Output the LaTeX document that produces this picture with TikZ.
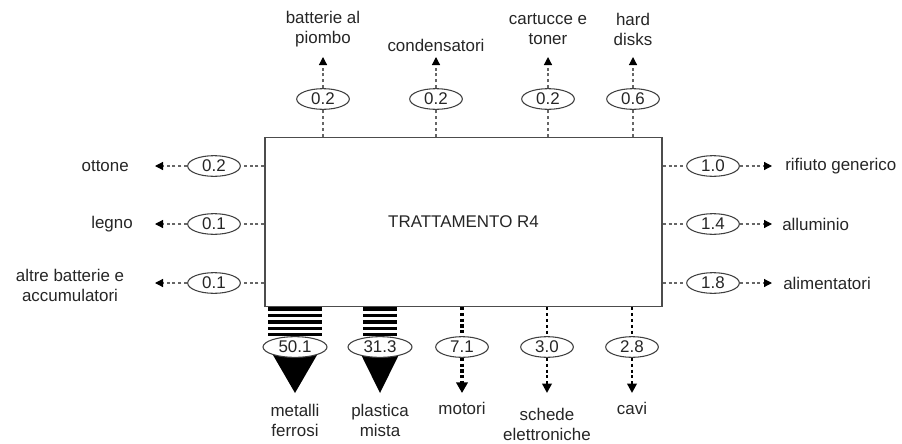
\documentclass[tikz,border=0pt]{standalone}
\usepackage{fontspec}
\setmainfont{Liberation Sans}
\usetikzlibrary{arrows.meta,shapes.geometric}
\pgfdeclarelayer{bg}
\pgfsetlayers{bg,main}
\begin{document}
\begin{tikzpicture}[x=0.75pt,y=-0.75pt,
  every node/.style={font=\fontsize{12.7}{15}\selectfont, inner sep=0pt, text=black!85},
  val/.style={ellipse, draw=black!75, line width=0.8pt, fill=white, minimum width=39.5pt, minimum height=15.5pt},
  bigval/.style={val, minimum width=48pt},
  lab/.style={align=center},
  thinflow/.style={draw=black!60, line width=0.9pt, dash pattern=on 2.2pt off 2.2pt},
  thinarrow/.style={thinflow, -{Triangle[length=6pt,width=6pt,color=black]}},
  stripes/.style={draw=black, line cap=butt, dash pattern=on 2.75pt off 2.1pt},
  thickdash/.style={draw=black, line width=3.6pt, dash pattern=on 2.4pt off 1.9pt},
  thickarrow/.style={thickdash, -{Triangle[length=8pt,width=8.5pt,color=black]}},
  meddash/.style={draw=black, line width=2.2pt, dash pattern=on 2.2pt off 2.2pt},
  medarrow/.style={meddash, -{Triangle[length=7pt,width=7pt,color=black]}},
]
\begin{pgfonlayer}{bg}
\fill[white] (0,0) rectangle (902,443);
\end{pgfonlayer}
\useasboundingbox (0,0) rectangle (902,443);

% main box
\node[draw=black!70, line width=1.1pt, fill=white, minimum width=297.75pt, minimum height=126.75pt] (box) at (463.5,222) {TRATTAMENTO R4};

% ---- top outputs
\node[val] (vt1) at (323,99) {0.2};
\node[val] (vt2) at (436,99) {0.2};
\node[val] (vt3) at (548,99) {0.2};
\node[val] (vt4) at (633,99) {0.6};
\coordinate (tt1) at (323,57);
\coordinate (tt2) at (436,57);
\coordinate (tt3) at (548,57);
\coordinate (tt4) at (633,57);
\node[lab] (lt1) at (323,29) {batterie al\\piombo};
\node[lab] (lt2) at (436,45) {condensatori};
\node[lab] (lt3) at (548,29) {cartucce e\\toner};
\node[lab] (lt4) at (633,29) {hard\\disks};

% ---- left outputs
\node[val] (vl1) at (214,166) {0.2};
\node[val] (vl2) at (214,224) {0.1};
\node[val] (vl3) at (214,283) {0.1};
\coordinate (tl1) at (155,166);
\coordinate (tl2) at (155,224);
\coordinate (tl3) at (155,283);
\node[anchor=east] (ll1) at (129,166) {ottone};
\node[anchor=east] (ll2) at (133,224) {legno};
\node[lab] (ll3) at (70,285) {altre batterie e\\accumulatori};

% ---- right outputs
\node[val] (vr1) at (713,166) {1.0};
\node[val] (vr2) at (713,224) {1.4};
\node[val] (vr3) at (713,283) {1.8};
\coordinate (tr1) at (772,166);
\coordinate (tr2) at (772,224);
\coordinate (tr3) at (772,283);
\node[anchor=west] (lr1) at (785,166) {rifiuto generico};
\node[anchor=west] (lr2) at (782,224) {alluminio};
\node[anchor=west] (lr3) at (783,283) {alimentatori};

% ---- bottom outputs
\node[bigval] (vb1) at (295,347) {50.1};
\node[bigval] (vb2) at (380,347) {31.3};
\node[val] (vb3) at (462,347) {7.1};
\node[val] (vb4) at (547,347) {3.0};
\node[val] (vb5) at (632,347) {2.8};
\coordinate (tb1) at (295,393);
\coordinate (tb2) at (380,393);
\coordinate (tb3) at (462,393);
\coordinate (tb4) at (547,393);
\coordinate (tb5) at (632,393);
\node[lab] (lb1) at (295,420) {metalli\\ferrosi};
\node[lab] (lb2) at (380,420) {plastica\\mista};
\node[lab] (lb3) at (462,408) {motori};
\node[lab] (lb4) at (547,424) {schede\\elettroniche};
\node[lab] (lb5) at (632,408) {cavi};

\begin{pgfonlayer}{bg}
  % top
  \foreach \i in {1,2,3,4} {
    \draw[thinflow] (box.north -| vt\i) -- (vt\i.south);
    \draw[thinarrow] (vt\i.north) -- (tt\i);
  }
  % left
  \foreach \i in {1,2,3} {
    \draw[thinflow] (box.west |- vl\i) -- (vl\i.east);
    \draw[thinarrow] (vl\i.west) -- (tl\i);
  }
  % right
  \foreach \i in {1,2,3} {
    \draw[thinflow] (box.east |- vr\i) -- (vr\i.west);
    \draw[thinarrow] (vr\i.east) -- (tr\i);
  }
  % bottom: striped flows with wide triangle heads
  \draw[stripes, line width=40.5pt] (box.south -| vb1) -- (vb1.north);
  \draw[stripes, line width=25.5pt] (box.south -| vb2) -- (vb2.north);
  \fill[black] ([xshift=-20pt]vb1.center) -- (tb1) -- ([xshift=20pt]vb1.center) -- cycle;
  \fill[black] ([xshift=-17pt]vb2.center) -- (tb2) -- ([xshift=17pt]vb2.center) -- cycle;
  % motori
  \draw[thickdash] (box.south -| vb3) -- (vb3.north);
  \draw[thickarrow] (vb3.south) -- (tb3);
  % schede, cavi
  \draw[meddash] (box.south -| vb4) -- (vb4.north);
  \draw[medarrow] (vb4.south) -- (tb4);
  \draw[meddash] (box.south -| vb5) -- (vb5.north);
  \draw[medarrow] (vb5.south) -- (tb5);
\end{pgfonlayer}
\end{tikzpicture}
\end{document}
